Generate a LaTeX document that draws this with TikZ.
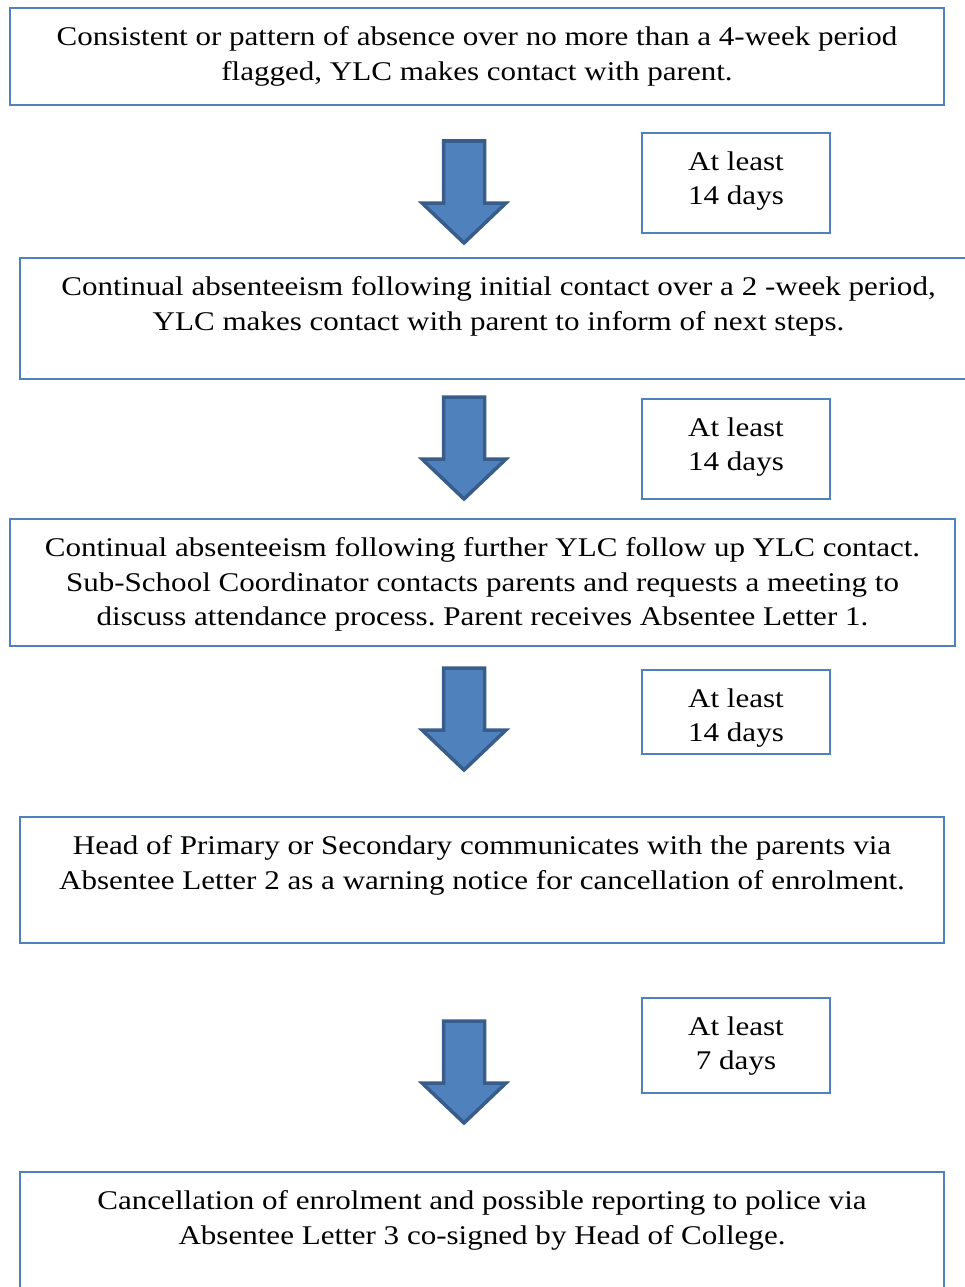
\documentclass[tikz,border=0pt]{standalone}
\usepackage{fontspec}
\setmainfont{Liberation Serif}[FakeStretch=1.15]
\usetikzlibrary{positioning}
\definecolor{boxblue}{HTML}{4F81BD}
\definecolor{arrowedge}{HTML}{385D8A}
\frenchspacing
\begin{document}
\begin{tikzpicture}[x=1pt, y=-1pt,
  stepbox/.style={draw=boxblue, line width=2pt, rectangle, inner sep=0pt},
  steptext/.style={inner sep=0pt, align=center, font=\fontsize{27}{34.5}\selectfont},
  bigarrow/.style={fill=boxblue, draw=arrowedge, line width=3.5pt, line join=miter}]
\useasboundingbox (0,0) rectangle (964,1287);
% main steps
\node[stepbox, minimum width=934pt, minimum height=97pt] (b1) at (477,56.5){};
\node[stepbox, minimum width=957pt, minimum height=121pt] (b2) at (498.5,318.5){};
\node[stepbox, minimum width=945pt, minimum height=127pt] (b3) at (482.5,582.5){};
\node[stepbox, minimum width=924pt, minimum height=126pt] (b4) at (482,880){};
\node[stepbox, minimum width=924pt, minimum height=130pt] (b5) at (482,1237){};
\node[steptext, below=19.5pt of b1.north] (t1) {Consistent or pattern of absence over no more than a 4-week period\\flagged, YLC makes contact with parent.};
\node[steptext, below=19.5pt of b2.north] (t2) {Continual absenteeism following initial contact over a 2 -week period,\\YLC makes contact with parent to inform of next steps.};
\node[steptext, below=19.5pt of b3.north] (t3) {Continual absenteeism following further YLC follow up YLC contact.\\Sub-School Coordinator contacts parents and requests a meeting to\\discuss attendance process. Parent receives Absentee Letter 1.};
\node[steptext, below=19.5pt of b4.north] (t4) {Head of Primary or Secondary communicates with the parents via\\Absentee Letter 2 as a warning notice for cancellation of enrolment.};
\node[steptext, below=19.5pt of b5.north] (t5) {Cancellation of enrolment and possible reporting to police via\\Absentee Letter 3 co-signed by Head of College.};
% waiting times
\node[stepbox, minimum width=188pt, minimum height=100pt] (w1) at (736,183){};
\node[stepbox, minimum width=188pt, minimum height=100pt] (w2) at (736,449){};
\node[stepbox, minimum width=188pt, minimum height=84pt] (w3) at (736,712){};
\node[stepbox, minimum width=188pt, minimum height=95pt] (w4) at (736,1045.5){};
\node[steptext, below=19.5pt of w1.north] (d1) {At least\\14 days};
\node[steptext, below=19.5pt of w2.north] (d2) {At least\\14 days};
\node[steptext, below=19.5pt of w3.north] (d3) {At least\\14 days};
\node[steptext, below=19.5pt of w4.north] (d4) {At least\\7 days};
% block arrows
\foreach \ay in {141,397,668,1021}
  \draw[bigarrow] (443.5,\ay) -- (484.5,\ay) -- (484.5,\ay+62) -- (506,\ay+62)
    -- (464,\ay+102) -- (422,\ay+62) -- (443.5,\ay+62) -- cycle;
\end{tikzpicture}
\end{document}
